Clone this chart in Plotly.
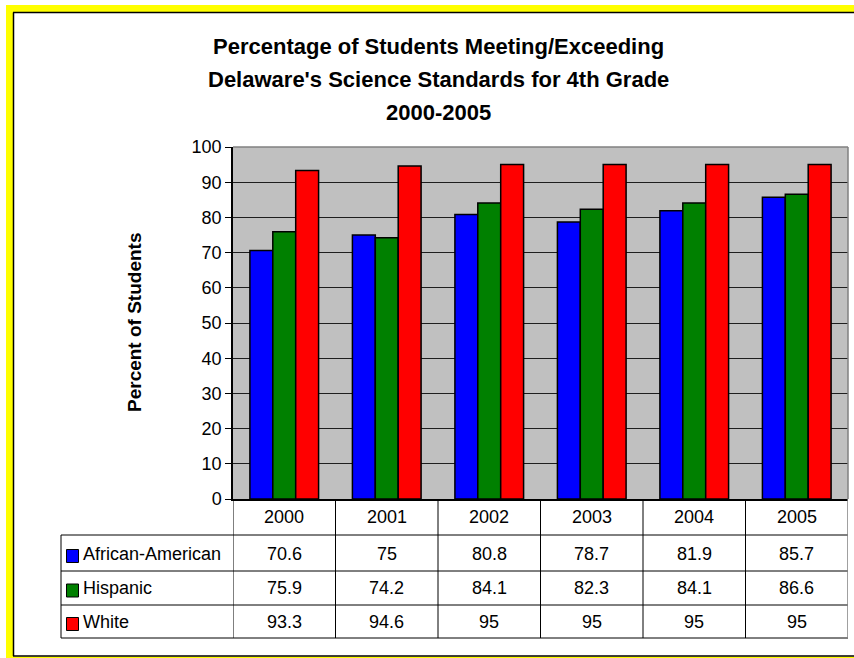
import plotly.graph_objects as go

# ---------------- data ----------------
years = ["2000", "2001", "2002", "2003", "2004", "2005"]
series_names = ["African-American", "Hispanic", "White"]
african_american = [70.6, 75, 80.8, 78.7, 81.9, 85.7]
hispanic = [75.9, 74.2, 84.1, 82.3, 84.1, 86.6]
white = [93.3, 94.6, 95, 95, 95, 95]
series_values = [african_american, hispanic, white]
series_colors = ["#0000FF", "#008000", "#FF0000"]
title_lines = [
    "Percentage of Students Meeting/Exceeding",
    "Delaware's Science Standards for 4th Grade",
    "2000-2005",
]
y_title = "Percent of Students"
y_ticks = [0, 10, 20, 30, 40, 50, 60, 70, 80, 90, 100]

# ---------------- geometry helpers ----------------
W, H = 854, 658
L, R, T, B = 233, 6, 147, 159
PW, PH = W - L - R, H - T - B
FONT = "Arial, 'Liberation Sans', sans-serif"


def px(x):
    return (x - L) / PW


def py(y):
    return (H - B - y) / PH


fig = go.Figure()
for name, vals, col in zip(series_names, series_values, series_colors):
    fig.add_trace(go.Bar(
        x=years, y=vals, name=name,
        marker=dict(color=col, line=dict(color="black", width=1.5)),
        hoverinfo="x+y+name",
    ))

shapes = []
annotations = []

# ---- outer yellow frame ----
yellow = "#FFFF00"
for x0, y0, x1, y1 in [(6, 5, 13, 658), (6, 5, 870, 12.5), (6, 656.5, 870, 665)]:
    shapes.append(dict(type="rect", xref="paper", yref="paper",
                       x0=px(x0), x1=px(x1), y0=py(y0), y1=py(y1),
                       fillcolor=yellow, line=dict(width=0), layer="above"))
for x0, y0, x1, y1 in [(13.5, 12.5, 13.5, 656), (13, 12.5, 870, 12.5), (13, 656, 870, 656)]:
    shapes.append(dict(type="line", xref="paper", yref="paper",
                       x0=px(x0), x1=px(x1), y0=py(y0), y1=py(y1),
                       line=dict(color="black", width=1.5), layer="above"))

# ---- plot-area border (top/right gray) ----
shapes.append(dict(type="line", xref="paper", yref="paper", x0=0, x1=1, y0=1, y1=1,
                   line=dict(color="#808080", width=1.5)))
shapes.append(dict(type="line", xref="paper", yref="paper", x0=1, x1=1, y0=0, y1=1,
                   line=dict(color="#808080", width=1.5)))

# ---- data table ----
row_edges = [499, 535, 571, 605, 638]
row_centers = [517, 553.5, 588, 621.5]
table_left = 61
line_style = dict(color="black", width=1)
for i, yy in enumerate(row_edges[1:]):
    shapes.append(dict(type="line", xref="paper", yref="paper",
                       x0=px(table_left), x1=1, y0=py(yy), y1=py(yy), line=line_style))
# vertical lines at category boundaries (data coords)
for k in range(len(years) + 1):
    last = k == len(years)
    shapes.append(dict(type="line", xref="x", yref="paper",
                       x0=k - 0.5, x1=k - 0.5, y0=py(row_edges[0]), y1=py(row_edges[-1]),
                       line=dict(color="#808080" if last else "black", width=1.5 if last else 1)))
shapes.append(dict(type="line", xref="paper", yref="paper",
                   x0=px(table_left), x1=px(table_left), y0=py(row_edges[1]), y1=py(row_edges[-1]),
                   line=line_style))

tfont = dict(family=FONT, size=18, color="black")
for i, yr in enumerate(years):
    annotations.append(dict(x=i, y=py(row_centers[0]), xref="x", yref="paper",
                            text=yr, showarrow=False, font=tfont,
                            xanchor="center", yanchor="middle"))
for r, (name, vals, col) in enumerate(zip(series_names, series_values, series_colors)):
    cy = row_centers[r + 1]
    for i, v in enumerate(vals):
        annotations.append(dict(x=i, y=py(cy), xref="x", yref="paper",
                                text=f"{v:g}", showarrow=False, font=tfont,
                                xanchor="center", yanchor="middle"))
    annotations.append(dict(x=px(80.5), y=py(cy), xref="paper", yref="paper",
                            text=name, showarrow=False, font=tfont,
                            xanchor="left", yanchor="middle"))
    shapes.append(dict(type="rect", xref="paper", yref="paper",
                       x0=px(66.5), x1=px(78.5), y0=py(cy + 9), y1=py(cy - 4),
                       fillcolor=col, line=dict(color="black", width=1)))

# ---- titles ----
title_y = [47, 79.5, 112]
for txt, yy in zip(title_lines, title_y):
    annotations.append(dict(x=px(438), y=py(yy), xref="paper", yref="paper",
                            text=txt, showarrow=False,
                            font=dict(family=FONT, size=22, color="black", weight="bold"),
                            xanchor="center", yanchor="middle"))
annotations.append(dict(x=px(134), y=0.5, xref="paper", yref="paper",
                        text=y_title, showarrow=False, textangle=-90,
                        font=dict(family=FONT, size=19, color="black", weight="bold"),
                        xanchor="center", yanchor="middle"))

fig.update_layout(
    width=W, height=H,
    margin=dict(l=L, r=R, t=T, b=B, pad=0),
    paper_bgcolor="white",
    plot_bgcolor="#C0C0C0",
    barmode="group",
    bargap=0.33,
    bargroupgap=0,
    showlegend=False,
    font=dict(family=FONT, color="black"),
    xaxis=dict(type="category", categoryorder="array", categoryarray=years,
               range=[-0.5, len(years) - 0.5],
               showticklabels=False, ticks="", showgrid=False,
               showline=True, linecolor="black", linewidth=1.5, zeroline=False,
               fixedrange=True),
    yaxis=dict(range=[0, 100], tickvals=y_ticks, ticktext=[str(t) for t in y_ticks],
               ticks="outside", ticklen=6, tickcolor="black", tickwidth=1,
               tickfont=dict(family=FONT, size=18, color="black"),
               showgrid=True, gridcolor="#1e1e1e", gridwidth=1,
               showline=True, linecolor="black", linewidth=1.5,
               zeroline=False, fixedrange=True),
    shapes=shapes,
    annotations=annotations,
)

fig.write_html("out.html")
